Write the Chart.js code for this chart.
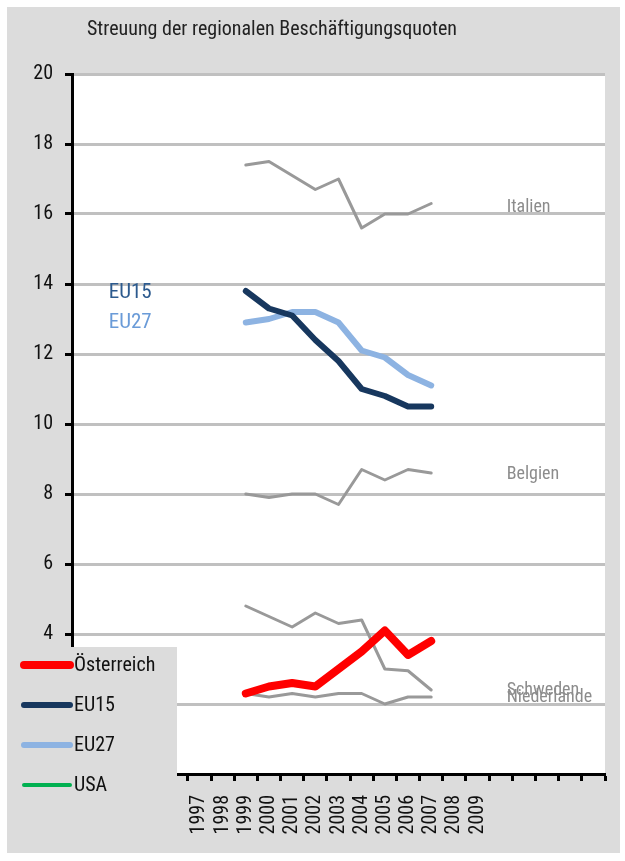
<!DOCTYPE html>
<html>
<head>
<meta charset="utf-8">
<script src="https://cdn.jsdelivr.net/npm/chart.js@4.4.1/dist/chart.umd.min.js"></script>
<style>
  body { margin: 0; background: #fff; }
  canvas { display: block; }
</style>
</head>
<body>
<canvas id="chart" width="625" height="861"></canvas>
<script>
// categories on the x axis (only 1997-2009 get a label)
const years = [1992, 1993, 1994, 1995, 1996, 1997, 1998, 1999, 2000, 2001, 2002, 2003,
               2004, 2005, 2006, 2007, 2008, 2009, 2010, 2011, 2012, 2013, 2014];
const firstLabelYear = 1997;
const lastLabelYear = 2009;

// values 1999-2007
const dataYears   = [1999, 2000, 2001, 2002, 2003, 2004, 2005, 2006, 2007];
const oesterreich = [2.3, 2.5, 2.6, 2.5, 3.0, 3.5, 4.1, 3.4, 3.8];
const eu15        = [13.8, 13.3, 13.1, 12.4, 11.8, 11.0, 10.8, 10.5, 10.5];
const eu27        = [12.9, 13.0, 13.2, 13.2, 12.9, 12.1, 11.9, 11.4, 11.1];
const italien     = [17.4, 17.5, 17.1, 16.7, 17.0, 15.6, 16.0, 16.0, 16.3];
const belgien     = [8.0, 7.9, 8.0, 8.0, 7.7, 8.7, 8.4, 8.7, 8.6];
const schweden    = [4.8, 4.5, 4.2, 4.6, 4.3, 4.4, 3.0, 2.95, 2.4];
const niederlande = [2.3, 2.2, 2.3, 2.2, 2.3, 2.3, 2.0, 2.2, 2.2];
const usa         = [];

const yTicks = [0, 2, 4, 6, 8, 10, 12, 14, 16, 18, 20];

// text labels written inside the plot
const noteTexts  = ['Italien', 'Belgien', 'Schweden', 'Niederlande', 'EU15', 'EU27'];
const noteYears  = [2010, 2010, 2010, 2010, 1993, 1993];
const noteValues = [16.2, 8.55, 2.4, 2.2, 13.75, 12.9];

const FONT = '"Roboto Condensed", "Liberation Sans Narrow", sans-serif';

function fullSeries(values) {
  return years.map(y => {
    const i = dataYears.indexOf(y);
    return i >= 0 && i < values.length ? values[i] : null;
  });
}

const grayLine = '#999999';
const noteColors = ['#8c8c8c', '#8c8c8c', '#8c8c8c', '#8c8c8c', '#2c5a8e', '#6a9bd8'];

const datasets = [
  { label: 'Österreich', data: fullSeries(oesterreich), borderColor: '#ff0000', borderWidth: 8, legend: true },
  { label: 'Schweden', data: fullSeries(schweden), borderColor: grayLine, borderWidth: 3 },
  { label: 'Niederlande', data: fullSeries(niederlande), borderColor: grayLine, borderWidth: 3 },
  { label: 'EU15', data: fullSeries(eu15), borderColor: '#17375e', borderWidth: 6, legend: true },
  { label: 'EU27', data: fullSeries(eu27), borderColor: '#8db3e2', borderWidth: 6, legend: true },
  { label: 'Italien', data: fullSeries(italien), borderColor: grayLine, borderWidth: 3 },
  { label: 'Belgien', data: fullSeries(belgien), borderColor: grayLine, borderWidth: 3 },
  { label: 'USA', data: fullSeries(usa), borderColor: '#00b050', borderWidth: 4, legend: true }
];

const frame = {
  id: 'frame',
  beforeDraw(chart) {
    const ctx = chart.ctx;
    const a = chart.chartArea;
    ctx.save();
    ctx.fillStyle = '#ffffff';
    ctx.fillRect(0, 0, chart.width, chart.height);
    ctx.fillStyle = '#dcdcdc';
    ctx.fillRect(7, 7, chart.width - 12, chart.height - 15);
    ctx.fillStyle = '#ffffff';
    ctx.fillRect(a.left, a.top, a.right - a.left, a.bottom - a.top);
    ctx.restore();
  },
  afterDatasetsDraw(chart) {
    const ctx = chart.ctx;
    const xs = chart.scales.x, ys = chart.scales.y;
    ctx.save();
    ctx.textBaseline = 'middle';
    ctx.textAlign = 'left';
    noteTexts.forEach((t, i) => {
      const big = i >= 4;
      ctx.font = (big ? '21px ' : '18px ') + FONT;
      ctx.fillStyle = noteColors[i];
      const x = xs.getPixelForValue(years.indexOf(noteYears[i])) + (big ? 2 : 6);
      ctx.fillText(t, x, ys.getPixelForValue(noteValues[i]));
    });
    // title
    ctx.fillStyle = '#222';
    ctx.font = '20px ' + FONT;
    ctx.fillText('Streuung der regionalen Beschäftigungsquoten', 87, 30);
    ctx.restore();
  },
  afterDraw(chart) {
    // legend box over the lower left corner
    const ctx = chart.ctx;
    ctx.save();
    ctx.fillStyle = '#dcdcdc';
    ctx.fillRect(7, 647, 170, chart.height - 15 - 640);
    ctx.textBaseline = 'middle';
    ctx.font = '20px ' + FONT;
    let y = 665;
    chart.data.datasets.filter(d => d.legend).forEach(d => {
      ctx.strokeStyle = d.borderColor;
      ctx.lineWidth = d.borderWidth;
      ctx.lineCap = 'round';
      ctx.beginPath();
      ctx.moveTo(24, y);
      ctx.lineTo(70, y);
      ctx.stroke();
      ctx.fillStyle = '#111';
      ctx.fillText(d.label, 74, y + 1);
      y += 40;
    });
    ctx.restore();
  }
};

new Chart(document.getElementById('chart'), {
  type: 'line',
  data: { labels: years.map(String), datasets },
  options: {
    responsive: false,
    devicePixelRatio: 1,
    animation: false,
    layout: { padding: { left: 0, top: 74, right: 20, bottom: 0 } },
    elements: {
      point: { radius: 0 },
      line: { tension: 0, borderCapStyle: 'round', borderJoinStyle: 'round' }
    },
    plugins: { legend: { display: false }, tooltip: { enabled: false }, title: { display: false } },
    scales: {
      x: {
        offset: true,
        afterFit(s) { s.height = 87; s.paddingLeft = 0; s.paddingRight = 0; },
        grid: { offset: true, drawOnChartArea: false, drawTicks: true, tickLength: 7, tickWidth: 3, tickColor: '#000' },
        border: { color: '#000', width: 3 },
        ticks: {
          autoSkip: false, minRotation: 90, maxRotation: 90, padding: 14, color: '#111',
          font: { family: FONT, size: 20 },
          callback(v, i) {
            const y = years[i];
            return y >= firstLabelYear && y <= lastLabelYear ? String(y) : '';
          }
        }
      },
      y: {
        min: 0, max: 20,
        afterFit(s) { s.width = 72; s.paddingTop = 0; s.paddingBottom = 0; },
        afterBuildTicks(s) { s.ticks = yTicks.map(v => ({ value: v })); },
        grid: { color: '#c0c0c0', lineWidth: 3, tickLength: 7, tickWidth: 3, tickColor: '#000' },
        border: { color: '#000', width: 3 },
        ticks: { padding: 12, color: '#111', font: { family: FONT, size: 20 } }
      }
    }
  },
  plugins: [frame]
});
</script>
</body>
</html>
